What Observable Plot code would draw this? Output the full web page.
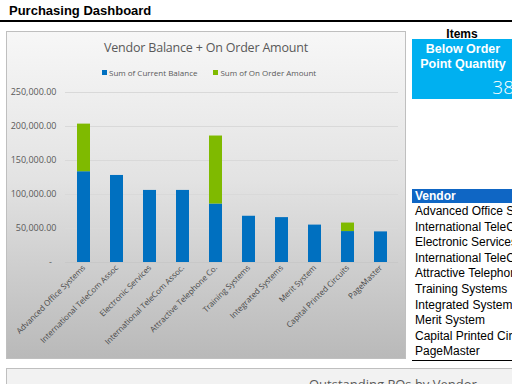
<!DOCTYPE html>
<html>
<head>
<meta charset="utf-8">
<script src="https://cdn.jsdelivr.net/npm/d3@7"></script>
<script src="https://cdn.jsdelivr.net/npm/@observablehq/plot@0.6"></script>
<style>
  html, body { margin: 0; padding: 0; background: #fff; }
  body { width: 512px; height: 384px; overflow: hidden; position: relative; font-family: "Open Sans", sans-serif; }
  .abs { position: absolute; white-space: nowrap; }
  #hdr { left: 9px; top: 3px; font: bold 13px "Liberation Sans", sans-serif; color: #000; }
  #hline { left: 0; top: 20px; width: 512px; height: 2px; background: #000; }
  #panel { left: 6px; top: 31px; width: 398px; height: 326px; border: 1px solid #bfbfbf;
           background: linear-gradient(#f7f7f7 0%, #e3e3e3 45%, #b9b9b9 100%); }
  #ctitle { left: 6px; width: 400px; top: 39px; text-align: center; font: 12.5px "Open Sans", sans-serif; letter-spacing: -0.2px; color: #595959; }
  #legend { left: 102px; top: 67px; font: 8px "Open Sans", sans-serif; color: #595959; display: flex; align-items: center; }
  #legend .sw { display: inline-block; width: 5px; height: 5px; margin-right: 2px; }
  #legend .it { display: flex; align-items: center; }
  #chart { left: 6px; top: 80px; }
  #items { left: 412px; width: 100px; top: 27px; text-align: center; font: bold 12px "Liberation Sans", sans-serif; color: #000; }
  #kpi { left: 412px; top: 39px; width: 100px; height: 60px; background: #00b0f0; color: #fff; }
  #kpi .t { position: absolute; left: 0; width: 102px; text-align: center; font: bold 12.5px "Liberation Sans", sans-serif; }
  #kpi .v { position: absolute; right: -2px; top: 35px; font: 19px "Open Sans", sans-serif; font-weight: 300; }
  #vhead { left: 412px; top: 189px; width: 100px; height: 14px; background: #0f66c4; color: #fff; font: bold 12px "Liberation Sans", sans-serif; line-height: 14px; padding-left: 3px; }
  #vlist { left: 415px; top: 204px; font: 12px "Liberation Sans", sans-serif; color: #000; line-height: 15.6px; }
  #vline { left: 412px; top: 360px; width: 100px; height: 1px; background: #000; }
  #panel2 { left: 6px; top: 368px; width: 520px; height: 40px; border: 1px solid #bfbfbf; background: #f2f2f2; }
  #p2title { left: 309px; top: 375px; font: 13px "Open Sans", sans-serif; color: #595959; }
</style>
</head>
<body>
<script>
// ---- data ----
const vendors = [
  "Advanced Office Systems",
  "International TeleCom Assoc",
  "Electronic Services",
  "International TeleCom Assoc.",
  "Attractive Telephone Co.",
  "Training Systems",
  "Integrated Systems",
  "Merit System",
  "Capital Printed Circuits",
  "PageMaster"
];
const currentBalance = [133500, 128000, 106000, 106000, 86000, 68000, 66000, 55000, 45500, 45000];
const onOrderAmount  = [70000, 0, 0, 0, 100000, 0, 0, 0, 12500, 0];
const seriesNames = ["Sum of Current Balance", "Sum of On Order Amount"];
const seriesColors = ["#0070c0", "#7fba00"];
const yTicks = [0, 50000, 100000, 150000, 200000, 250000];
const listVendors = vendors;
const kpiValue = 38;

const data = [
  ...vendors.map((v, i) => ({vendor: v, series: seriesNames[0], value: currentBalance[i]})),
  ...vendors.map((v, i) => ({vendor: v, series: seriesNames[1], value: onOrderAmount[i]}))
];

function add(html, id, cls) {
  const d = document.createElement("div");
  d.className = "abs" + (cls ? " " + cls : "");
  if (id) d.id = id;
  d.innerHTML = html;
  document.body.appendChild(d);
  return d;
}

add("Purchasing Dashboard", "hdr");
add("", "hline");
add("", "panel");
add("Vendor Balance + On Order Amount", "ctitle");
add(seriesNames.map((s, i) =>
  `<span class="it" style="margin-right:${i === 0 ? 16 : 0}px"><span class="sw" style="background:${seriesColors[i]}"></span>${s}</span>`).join(""), "legend");

const fmt = d3.format(",.2f");
const chart = Plot.plot({
  width: 400,
  height: 278,
  marginLeft: 59,
  marginRight: 8,
  marginTop: 12,
  marginBottom: 96,
  style: {background: "transparent", color: "#595959", fontFamily: "Open Sans, sans-serif", fontSize: "9px", overflow: "visible"},
  x: {domain: vendors, paddingInner: 0.62, paddingOuter: 0.31, label: null},
  y: {domain: [0, 250000], label: null},
  color: {domain: seriesNames, range: seriesColors},
  marks: [
    Plot.gridY(yTicks, {stroke: "#d9d9d9", strokeOpacity: 1}),
    Plot.ruleY([0], {stroke: "#c8c8c8"}),
    Plot.barY(data, {x: "vendor", y: "value", fill: "series"}),
    Plot.axisY(yTicks, {tickSize: 0, tickPadding: 9, fontSize: 9,
      tickFormat: d => d === 0 ? "-\u00a0\u00a0" : fmt(d)}),
    Plot.axisX({tickSize: 0, tickRotate: -45, tickPadding: 4, fontSize: 8, fill: "#474747"})
  ]
});
const c = add("", "chart");
c.appendChild(chart);

add("Items", "items");
add(`<div class="t" style="top:3px">Below Order</div><div class="t" style="top:18px">Point Quantity</div><div class="v">${kpiValue}</div>`, "kpi");
add("Vendor", "vhead");
add(listVendors.join("<br>"), "vlist");
add("", "vline");
add("", "panel2");
add("Outstanding POs by Vendor", "p2title");
</script>
</body>
</html>
